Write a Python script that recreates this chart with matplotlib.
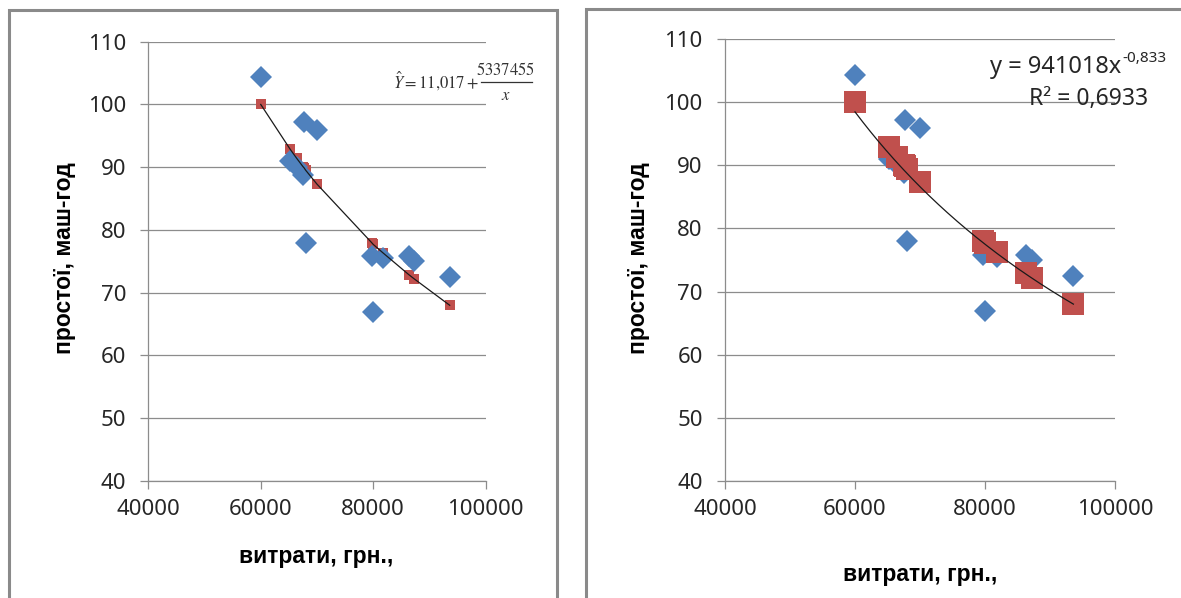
import numpy as np
import matplotlib.pyplot as plt
from matplotlib.patches import Rectangle
from matplotlib.lines import Line2D

plt.rcParams['font.family'] = ['Noto Sans', 'DejaVu Sans']

# витрати та простої (фактичні дані)
vytraty = [60000, 67700, 70000, 65200, 66400, 67500, 68000,
           79700, 81800, 86300, 87300, 93600, 80000]
prostoi = [104.4, 97.2, 96.0, 91.0, 90.0, 88.8, 78.0,
           75.8, 75.5, 75.8, 75.0, 72.5, 66.9]
# розрахункові значення за гіперболічною моделлю
prostoi_model = [100.0, 89.9, 87.3, 92.9, 91.4, 90.1, 89.5,
                 78.0, 76.3, 72.9, 72.2, 68.0, 77.7]

x_ticks = [40000, 60000, 80000, 100000]
y_ticks = [40, 50, 60, 70, 80, 90, 100, 110]

blue = '#4F81BD'
red = '#C0504D'
grid_c = '#8C8C8C'
text_c = '#262626'
bold_font = ['Liberation Sans', 'DejaVu Sans']

W, H = 1181, 598
fig = plt.figure(figsize=(W / 100, H / 100), dpi=100)


def px_axes(x0, x1, y_top, y_bot):
    return fig.add_axes([x0 / W, 1 - y_bot / H, (x1 - x0) / W, (y_bot - y_top) / H])


def excel_style(ax):
    ax.set_xlim(40000, 100000)
    ax.set_ylim(40, 110)
    ax.set_xticks(x_ticks)
    ax.set_yticks(y_ticks)
    ax.grid(axis='y', color=grid_c, linewidth=0.9)
    ax.set_axisbelow(True)
    for s in ['top', 'right']:
        ax.spines[s].set_visible(False)
    for s in ['left', 'bottom']:
        ax.spines[s].set_color(grid_c)
        ax.spines[s].set_linewidth(0.9)
    ax.tick_params(axis='both', direction='out', length=6, width=0.9,
                   color=grid_c, labelsize=16, labelcolor=text_c)
    ax.tick_params(axis='y', pad=10)
    ax.tick_params(axis='x', pad=7)


# рамки діаграм
fig.add_artist(Rectangle((9 / W, -0.1), (557 - 9) / W, 1.1 - 10 / H,
                         transform=fig.transFigure, fill=False,
                         edgecolor='#8A8A8A', linewidth=2.2))
fig.add_artist(Rectangle((586 / W, -0.1), 1.0, 1.1 - 9 / H,
                         transform=fig.transFigure, fill=False,
                         edgecolor='#8A8A8A', linewidth=2.2))

# ліва діаграма: гіперболічна модель
ax1 = px_axes(148.3, 485.7, 41.7, 481)
excel_style(ax1)
order = np.argsort(vytraty)
ax1.plot(np.array(vytraty)[order], np.array(prostoi_model)[order],
         color='#1A1A1A', linewidth=0.9, zorder=5)
ax1.plot(vytraty, prostoi_model, 's', color=red, markersize=6.5,
         markeredgewidth=0, zorder=3)
ax1.plot(vytraty, prostoi, 'D', color=blue, markersize=11,
         markeredgewidth=0, zorder=4, clip_on=False)
fig.text(64.6 / W, 1 - 258 / H, 'простої, маш-год', rotation=90,
         ha='center', va='center', fontsize=16.5, fontweight='bold',
         family=bold_font)
fig.text(316 / W, 1 - 557 / H, 'витрати, грн.,', ha='center', va='center',
         fontsize=16.5, fontweight='bold', family=bold_font)

# рівняння гіперболи: ліва частина, дріб і риска дробу
eq_c = '#333333'
fig.text(479 / W, 1 - 88 / H, r'$\hat{Y} = 11{,}017 +$', ha='right',
         va='baseline', fontsize=12, color=eq_c, math_fontfamily='stix')
fig.text(506 / W, 1 - 75 / H, r'$5337455$', ha='center', va='baseline',
         fontsize=12, color=eq_c, math_fontfamily='stix')
fig.text(506 / W, 1 - 100 / H, r'$x$', ha='center', va='baseline',
         fontsize=12, color=eq_c, math_fontfamily='stix')
fig.add_artist(Line2D([481 / W, 532 / W], [1 - 82 / H, 1 - 82 / H],
                      transform=fig.transFigure, color=eq_c, linewidth=0.9))

# права діаграма: степенева лінія тренду
ax2 = px_axes(725, 1115, 39.3, 480.7)
excel_style(ax2)
ax2.plot(vytraty, prostoi, 'D', color=blue, markersize=11,
         markeredgewidth=0, zorder=3, clip_on=False)
ax2.plot(vytraty, prostoi_model, 's', color=red, markersize=15.5,
         markeredgewidth=0, zorder=4)
xt = np.linspace(min(vytraty), max(vytraty), 200)
ax2.plot(xt, 941018 * xt ** -0.833, color='#1A1A1A', linewidth=0.9, zorder=5)
fig.text(638 / W, 1 - 258 / H, 'простої, маш-год', rotation=90,
         ha='center', va='center', fontsize=16.5, fontweight='bold',
         family=bold_font)
fig.text(920 / W, 1 - 575 / H, 'витрати, грн.,', ha='center', va='center',
         fontsize=16.5, fontweight='bold', family=bold_font)

# рівняння тренду з показником степеня
eq = fig.text(990 / W, 1 - 73 / H, 'y = 941018x', ha='left', va='baseline',
              fontsize=17, color=text_c)
bb = eq.get_window_extent(renderer=fig.canvas.get_renderer())
fig.text(bb.x1 / W + 1 / W, 1 - 62 / H, '-0,833', ha='left', va='baseline',
         fontsize=11, color=text_c)
fig.text(1089 / W, 1 - 99 / H, 'R² = 0,6933',
         ha='center', va='center', fontsize=16.5, color=text_c)

fig.savefig('out.png', dpi=100, facecolor='white')
